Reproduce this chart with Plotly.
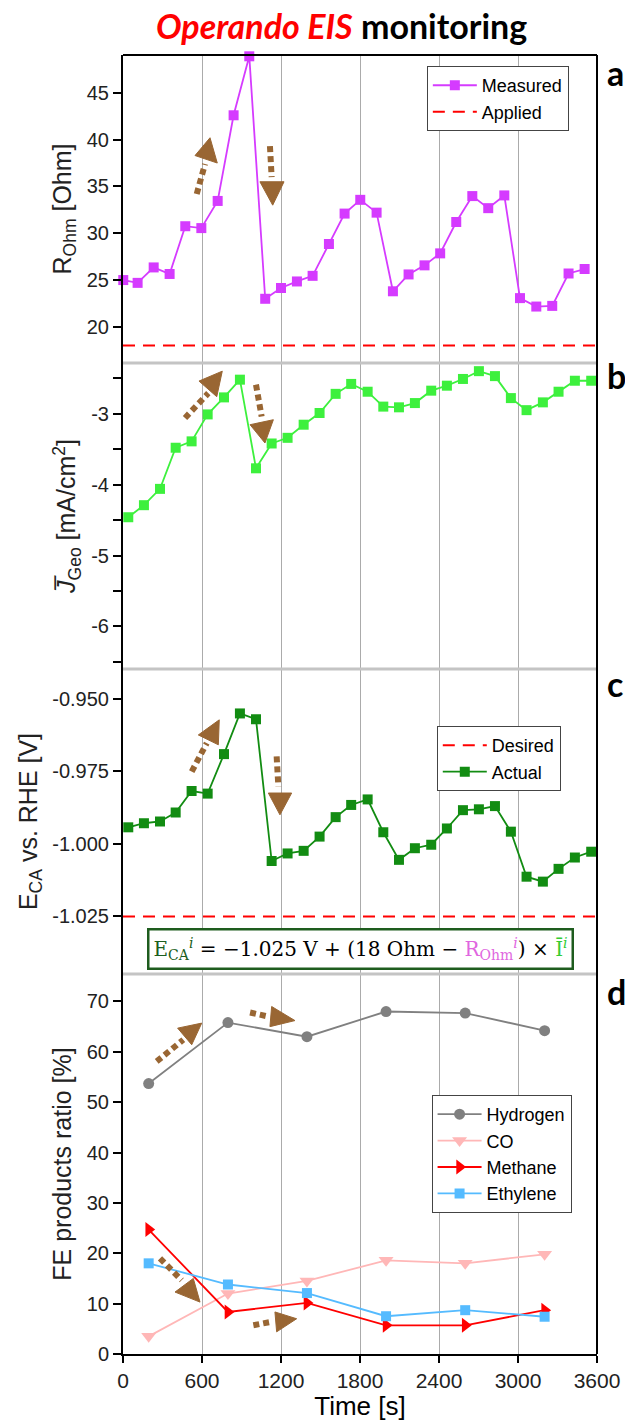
import plotly.graph_objects as go
from plotly.subplots import make_subplots

# ---------------- data ----------------
# panel a : ohmic resistance
t_a = [2, 111, 233, 354, 473, 595, 719, 840, 959, 1080, 1200, 1321, 1440, 1564, 1683,
       1802, 1926, 2050, 2169, 2290, 2409, 2531, 2653, 2774, 2896, 3015, 3139, 3260, 3384, 3506]
r_measured = [25.0, 24.7, 26.35, 25.65, 30.75, 30.55, 33.45, 42.6, 48.9, 23.0, 24.15, 24.85,
              25.45, 28.85, 32.1, 33.57, 32.2, 23.8, 25.6, 26.57, 27.85, 31.2, 33.97, 32.68,
              34.04, 23.07, 22.17, 22.24, 25.7, 26.18]
r_applied = 18

# panels b, c : current density and potential
t_bc = [40, 159, 281, 400, 521, 643, 767, 888, 1010, 1129, 1250, 1372, 1493, 1615, 1733,
        1858, 1977, 2096, 2217, 2341, 2460, 2582, 2703, 2825, 2946, 3065, 3189, 3308, 3432, 3556]
j_geo = [-4.46, -4.29, -4.06, -3.48, -3.39, -3.01, -2.77, -2.52, -3.77, -3.42, -3.34, -3.155,
         -2.99, -2.72, -2.58, -2.69, -2.90, -2.91, -2.85, -2.675, -2.605, -2.51, -2.40, -2.47,
         -2.78, -2.95, -2.84, -2.69, -2.535, -2.535]
e_actual = [-0.9943, -0.9929, -0.9923, -0.9892, -0.9818, -0.9827, -0.9691, -0.9551, -0.9571,
            -1.0059, -1.0033, -1.0024, -0.9975, -0.9908, -0.9866, -0.9847, -0.9960, -1.0055,
            -1.0015, -1.0003, -0.9947, -0.9884, -0.9881, -0.9870, -0.9958, -1.0113, -1.0130,
            -1.0086, -1.0047, -1.0027]
e_desired = -1.025

# panel d : faradaic efficiencies
t_fe = [195, 797, 1397, 1998, 2599, 3202]
hydrogen = [53.7, 65.8, 63.0, 68.0, 67.7, 64.2]
co = [3.5, 12.0, 14.5, 18.6, 18.0, 19.8]
methane = [24.7, 8.35, 10.15, 5.7, 5.7, 8.7]
ethylene = [18.0, 13.8, 12.1, 7.5, 8.7, 7.4]

# tick labels
x_ticks = [0, 600, 1200, 1800, 2400, 3000, 3600]
a_ticks = [20, 25, 30, 35, 40, 45]
b_ticks = [-6, -5, -4, -3]
b_labels = ["-6", "-5", "-4", "-3"]
b_minor = [-6.5, -5.5, -4.5, -3.5, -2.5]
c_ticks = [-1.025, -1.000, -0.975, -0.950]
c_labels = ["-1.025", "-1.000", "-0.975", "-0.950"]
d_ticks = [0, 10, 20, 30, 40, 50, 60, 70]

# trend arrows (data coords): (row, shaft_from, shaft_to, head triangle)
arrows = [
    (1, (560, 34.2), (623, 37.4), [(547, 38.3), (716, 37.5), (661, 40.2)]),
    (1, (1116, 39.3), (1129, 36.0), [(1040, 35.5), (1223, 35.5), (1137, 33.0)]),
    (2, (471, -3.06), (648, -2.71), [(577, -2.54), (712, -2.76), (754, -2.40)]),
    (2, (1010, -2.59), (1053, -3.04), [(965, -3.155), (1142, -3.085), (1078, -3.413)]),
    (3, (522, -0.9751), (636, -0.9653), [(572, -0.9625), (724, -0.9659), (731, -0.9573)]),
    (3, (1167, -0.9699), (1180, -0.9803), [(1104, -0.9825), (1281, -0.9825), (1192, -0.9900)]),
    (4, (256, 58.1), (458, 62.4), [(415, 64.7), (522, 61.4), (598, 65.7)]),
    (4, (965, 67.8), (1104, 67.0), [(1129, 69.0), (1116, 65.0), (1306, 66.2)]),
    (4, (281, 19.0), (446, 14.65), [(395, 12.3), (534, 15.0), (585, 10.3)]),
    (4, (990, 5.7), (1129, 6.4), [(1154, 8.35), (1167, 4.4), (1319, 7.0)]),
]

# ---------------- figure ----------------
FONT = "Liberation Sans, Arial, sans-serif"
RED = "#FF0000"
fig = make_subplots(rows=4, cols=1, shared_xaxes=True, vertical_spacing=0,
                    row_heights=[308, 306, 305, 380])

fig.add_trace(go.Scatter(x=t_a, y=r_measured, mode="lines+markers", name="Measured",
                         line=dict(color="#D53BFF", width=1.8),
                         marker=dict(symbol="square", size=10, color="#D53BFF"),
                         cliponaxis=False, legend="legend"), row=1, col=1)
fig.add_trace(go.Scatter(x=[0, 3600], y=[r_applied, r_applied], mode="lines", name="Applied",
                         line=dict(color=RED, width=2, dash="12px,8px"),
                         legend="legend"), row=1, col=1)

fig.add_trace(go.Scatter(x=t_bc, y=j_geo, mode="lines+markers", showlegend=False,
                         line=dict(color="#3DF03D", width=1.8),
                         marker=dict(symbol="square", size=10, color="#3DF03D")), row=2, col=1)

fig.add_trace(go.Scatter(x=[0, 3600], y=[e_desired, e_desired], mode="lines", name="Desired",
                         line=dict(color=RED, width=2, dash="12px,8px"),
                         legend="legend2"), row=3, col=1)
fig.add_trace(go.Scatter(x=t_bc, y=e_actual, mode="lines+markers", name="Actual",
                         line=dict(color="#128C12", width=1.8),
                         marker=dict(symbol="square", size=10, color="#128C12"),
                         legend="legend2"), row=3, col=1)

fe_series = [("Hydrogen", hydrogen, "#808080", "circle", 11),
             ("CO", co, "#FFB7B7", "triangle-down", 13),
             ("Methane", methane, RED, "triangle-right", 13),
             ("Ethylene", ethylene, "#55BBFF", "square", 10)]
for name, vals, col, sym, sz in fe_series:
    fig.add_trace(go.Scatter(x=t_fe, y=vals, mode="lines+markers", name=name,
                             line=dict(color=col, width=1.8),
                             marker=dict(symbol=sym, size=sz, color=col),
                             legend="legend3"), row=4, col=1)

# axes
for r in range(1, 5):
    fig.update_xaxes(row=r, col=1, range=[0, 3600], tickvals=x_ticks, showgrid=True,
                     gridcolor="#ABABAB", gridwidth=1, zeroline=False, automargin=False,
                     showticklabels=(r == 4))
fig.update_xaxes(row=4, col=1, showline=True, linecolor="black", linewidth=2,
                 ticks="outside", ticklen=7, tickwidth=1.5, tickcolor="black",
                 tickfont=dict(family=FONT, size=21, color="#222"),
                 title=dict(text="Time [s]", font=dict(family=FONT, size=26, color="black"),
                            standoff=14))

common_y = dict(showline=True, linecolor="black", linewidth=2, ticks="outside", ticklen=8,
                tickwidth=1.5, tickcolor="black", showgrid=False, zeroline=False,
                automargin=False, tickfont=dict(family=FONT, size=20, color="#222"))
tfont = dict(family=FONT, size=25, color="#222")
fig.update_yaxes(row=1, col=1, range=[16.14, 49.04], tickvals=a_ticks,
                 title=dict(text="R<sub>Ohm</sub> [Ohm]", font=tfont, standoff=8), **common_y)
fig.update_yaxes(row=2, col=1, range=[-6.6, -2.285], tickvals=b_ticks, ticktext=b_labels,
                 minor=dict(tickvals=b_minor, ticks="outside", ticklen=8, tickwidth=1.5,
                            tickcolor="black"),
                 title=dict(text="<i>J̅</i><sub>Geo</sub> [mA/cm<sup>2</sup>]", font=tfont,
                            standoff=8), **common_y)
fig.update_yaxes(row=3, col=1, range=[-1.0448, -0.9398], tickvals=c_ticks, ticktext=c_labels,
                 title=dict(text="E<sub>CA</sub> vs. RHE [V]", font=tfont, standoff=8),
                 **common_y)
fig.update_yaxes(row=4, col=1, range=[0, 75.45], tickvals=d_ticks,
                 title=dict(text="FE products ratio [%]", font=tfont, standoff=8), **common_y)

# arrows
BROWN = "#996633"
for row, p0, p1, tri in arrows:
    xr = "x" if row == 1 else f"x{row}"
    yr = "y" if row == 1 else f"y{row}"
    fig.add_shape(type="line", xref=xr, yref=yr, x0=p0[0], y0=p0[1], x1=p1[0], y1=p1[1],
                  line=dict(color=BROWN, width=6, dash="6px,4px"))
    path = "M {},{} L {},{} L {},{} Z".format(tri[0][0], tri[0][1], tri[1][0], tri[1][1],
                                            tri[2][0], tri[2][1])
    fig.add_shape(type="path", xref=xr, yref=yr, path=path, fillcolor=BROWN,
                  line=dict(color=BROWN, width=1))

# separators and frame
doms = [fig.layout.yaxis.domain, fig.layout.yaxis2.domain, fig.layout.yaxis3.domain]
for d in doms:
    fig.add_shape(type="line", xref="paper", yref="paper", x0=0, x1=1, y0=d[0], y1=d[0],
                  line=dict(color="#C4C4C4", width=3))
fig.add_shape(type="line", xref="paper", yref="paper", x0=1, x1=1, y0=0, y1=1,
              line=dict(color="black", width=2))
fig.add_shape(type="line", xref="paper", yref="paper", x0=0, x1=1, y0=1, y1=1,
              line=dict(color="black", width=2))

# title
fig.add_annotation(xref="paper", yref="paper", x=0.4615, y=1.0225, xanchor="center",
                   yanchor="middle", showarrow=False,
                   text="<b><i><span style='color:#FF0000'>Operando EIS</span></i> monitoring</b>",
                   font=dict(family="Lato, Open Sans, sans-serif", size=34, color="black"))

# panel letters
for letter, yp in [("a", 0.9865), ("b", 0.7530), ("c", 0.5165), ("d", 0.2790)]:
    fig.add_annotation(xref="paper", yref="paper", x=1.0165, y=yp, xanchor="left",
                       yanchor="middle", showarrow=False, text=f"<b>{letter}</b>",
                       font=dict(family="Lato, Open Sans, sans-serif", size=34, color="black"))

# equation box
eq = ("<span style='color:#1B5E20'>E<sub>CA</sub><sup><i>i</i></sup></span> = −1.025 V + "
      "(18 Ohm − <span style='color:#E066E0'>R<sub>Ohm</sub><sup><i>i</i></sup></span>) × "
      "<span style='color:#33CC33'>Ī<sup><i>i</i></sup></span>")
fig.add_annotation(xref="paper", yref="paper", x=0.5, y=0.3118, xanchor="center",
                   yanchor="middle", showarrow=False, text=eq,
                   font=dict(family="DejaVu Serif, serif", size=20, color="black"),
                   bordercolor="#1E5C1E", borderwidth=2.5, borderpad=4, bgcolor="white")

leg_common = dict(bgcolor="white", bordercolor="#444", borderwidth=1, xanchor="left",
                  yanchor="top", font=dict(family=FONT, size=18, color="black"),
                  tracegroupgap=0, itemwidth=44)
fig.update_layout(
    width=625, height=1421,
    margin=dict(l=123, r=28, t=55, b=67, autoexpand=False),
    plot_bgcolor="white", paper_bgcolor="white",
    legend=dict(x=0.641, y=0.9915, **leg_common),
    legend2=dict(x=0.662, y=0.4834, **leg_common),
    legend3=dict(x=0.651, y=0.1994, **leg_common),
)

fig.write_html("out.html", config={"displayModeBar": False},
               post_script="document.body.style.margin='0px';")
